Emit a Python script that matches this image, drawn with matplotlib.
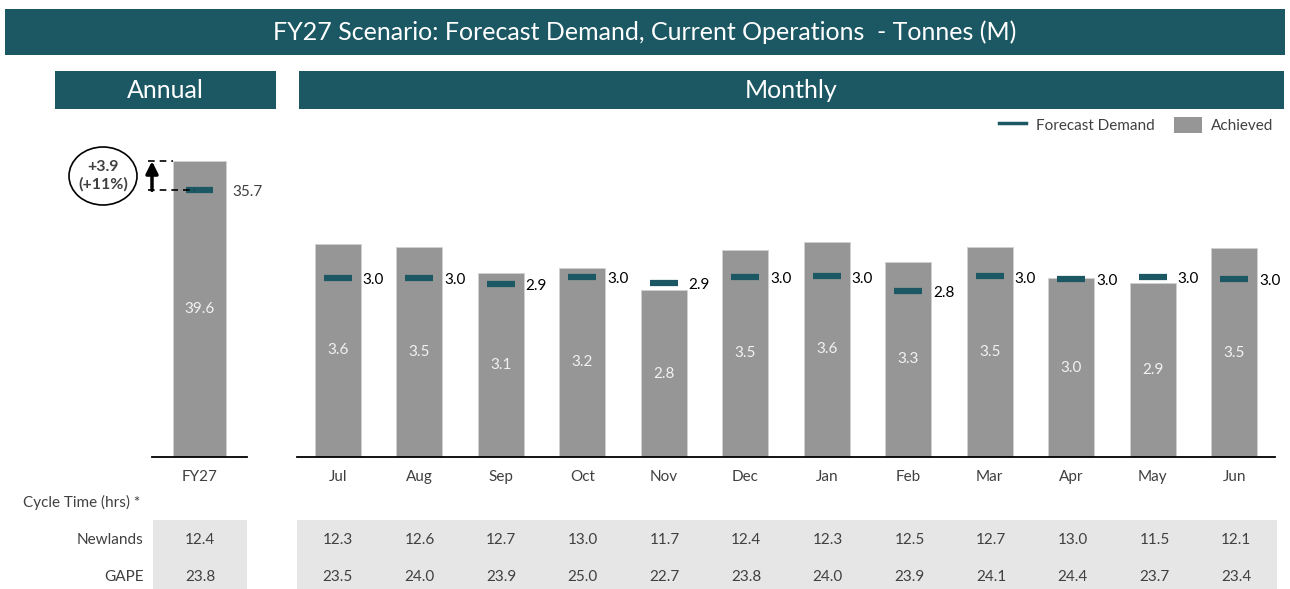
import matplotlib
matplotlib.use("Agg")
from matplotlib import pyplot as plt
from matplotlib.patches import Rectangle, Ellipse, Patch
from matplotlib.lines import Line2D
import matplotlib.transforms as mtransforms
import numpy as np

# ---- data ----
annual_label = ["FY27"]
annual_achieved = [39.6]
annual_forecast = [35.7]

months = ["Jul", "Aug", "Sep", "Oct", "Nov", "Dec", "Jan", "Feb", "Mar", "Apr", "May", "Jun"]
achieved = [3.60, 3.54, 3.10, 3.20, 2.82, 3.50, 3.64, 3.30, 3.54, 3.02, 2.94, 3.53]
forecast = [3.02, 3.02, 2.93, 3.04, 2.94, 3.04, 3.05, 2.80, 3.05, 3.00, 3.04, 3.00]

row_names = ["Newlands", "GAPE"]
annual_cycle = [[12.4], [23.8]]
monthly_cycle = [
    [12.3, 12.6, 12.7, 13.0, 11.7, 12.4, 12.3, 12.5, 12.7, 13.0, 11.5, 12.1],
    [23.5, 24.0, 23.9, 25.0, 22.7, 23.8, 24.0, 23.9, 24.1, 24.4, 23.7, 23.4],
]

title = "FY27 Scenario: Forecast Demand, Current Operations  - Tonnes (M)"

# ---- style ----
teal = "#1B5863"
bar_grey = "#969696"
table_grey = "#E6E6E6"
txt = "#404040"
plt.rcParams["font.family"] = ["Lato", "DejaVu Sans"]

W, H = 1290, 589
fig = plt.figure(figsize=(W / 100, H / 100), dpi=100)


def px(x0, y0, x1, y1):
    return [x0 / W, 1 - y1 / H, (x1 - x0) / W, (y1 - y0) / H]


def header(x0, y0, x1, y1, label, size):
    r = px(x0, y0, x1, y1)
    fig.patches.append(Rectangle((r[0], r[1]), r[2], r[3], transform=fig.transFigure,
                                 facecolor=teal, edgecolor="none"))
    fig.text(r[0] + r[2] / 2, r[1] + r[3] / 2, label, color="white", fontsize=size,
             ha="center", va="center")


header(5, 9, 1285, 55, title, 18)
header(55, 71, 276, 109, "Annual", 18)
header(299, 71, 1284, 109, "Monthly", 18)

# ---- chart axes ----
top, base = 140, 457
ax_a = fig.add_axes(px(152, top, 247, base))
ax_m = fig.add_axes(px(297, top, 1275, base))

ax_a.set_ylim(0, (base - top) / 7.47)
ax_m.set_ylim(0, (base - top) / 59.2)

# annual
xa = np.arange(len(annual_label))
ax_a.bar(xa, annual_achieved, width=0.55, color=bar_grey, edgecolor="#D0D0D0", linewidth=0.6)
ax_a.hlines(annual_forecast, xa - 0.14, xa + 0.14, color=teal, lw=4.5)
ax_a.set_xlim(-0.5, 0.5)
ax_a.set_xticks(xa, annual_label)
for x, a, f in zip(xa, annual_achieved, annual_forecast):
    ax_a.text(x, a / 2, f"{a:.1f}", ha="center", va="center", color="#F2F2F2", fontsize=11)
    ax_a.annotate(f"{f:.1f}", (x, f), xytext=(24, -1), textcoords="offset points",
                  ha="left", va="center", color=txt, fontsize=11)

# monthly
xm = np.arange(len(months))
ax_m.bar(xm, achieved, width=0.56, color=bar_grey, edgecolor="#D0D0D0", linewidth=0.6)
ax_m.hlines(forecast, xm - 0.17, xm + 0.17, color=teal, lw=4.5)
ax_m.set_xlim(-0.5, len(months) - 0.5)
ax_m.set_xticks(xm, months)
for x, a, f in zip(xm, achieved, forecast):
    ax_m.text(x, a / 2, f"{a:.1f}", ha="center", va="center", color="#F2F2F2", fontsize=11)
    ax_m.annotate(f"{f:.1f}", (x, f), xytext=(18, -1.5), textcoords="offset points",
                  ha="left", va="center", color="black", fontsize=11)

for ax in (ax_a, ax_m):
    for s in ("top", "right", "left"):
        ax.spines[s].set_visible(False)
    ax.spines["bottom"].set_linewidth(1.3)
    ax.spines["bottom"].set_color("black")
    ax.set_yticks([])
    ax.tick_params(axis="x", length=0, pad=17, labelsize=11, labelcolor=txt)
    for lab in ax.get_xticklabels():
        lab.set_verticalalignment("baseline")
    ax.patch.set_alpha(0)

# gap annotation on annual
gap = annual_achieved[0] - annual_forecast[0]
pct = gap / annual_forecast[0] * 100
blend = mtransforms.blended_transform_factory(fig.transFigure, ax_a.transData)
ax_a.plot([148 / W, 173 / W], [annual_achieved[0]] * 2, transform=blend, clip_on=False,
          color="black", lw=1.2, ls=(0, (4, 3)))
ax_a.plot([148 / W, 195 / W], [annual_forecast[0]] * 2, transform=blend, clip_on=False,
          color="black", lw=1.2, ls=(0, (4, 3)))
ax_a.annotate("", xy=(152 / W, annual_achieved[0]), xytext=(152 / W, annual_forecast[0]),
              xycoords=blend, textcoords=blend,
              arrowprops=dict(arrowstyle="-|>", lw=2.5, color="black", mutation_scale=18,
                              shrinkA=0, shrinkB=0))
e = px(69, 147, 137, 205)
fig.patches.append(Ellipse((e[0] + e[2] / 2, e[1] + e[3] / 2), e[2], e[3],
                           transform=fig.transFigure, facecolor="white",
                           edgecolor="black", lw=1.2))
fig.text(e[0] + e[2] / 2, e[1] + e[3] / 2, f"+{gap:.1f}\n(+{pct:.0f}%)", ha="center",
         va="center", fontsize=11.5, fontweight="bold", color=txt, linespacing=1.3)

# legend
handles = [Line2D([], [], color=teal, lw=2.5), Patch(facecolor=bar_grey, edgecolor="none")]
fig.legend(handles, ["Forecast Demand", "Achieved"], loc="center right",
           bbox_to_anchor=(1287 / W, 1 - 125 / H), ncol=2, frameon=False, fontsize=11,
           labelcolor=txt, handlelength=1.8, handleheight=1.3, handletextpad=0.6,
           columnspacing=1.3)

# ---- cycle time table ----
tb_a = fig.add_axes(px(153, 520, 247, 589))
tb_m = fig.add_axes(px(297, 520, 1277, 589), sharex=ax_m)
for tb in (tb_a, tb_m):
    tb.set_facecolor(table_grey)
    for s in tb.spines.values():
        s.set_visible(False)
    tb.set_ylim(1.32, -0.54)
    tb.tick_params(left=False, bottom=False, labelleft=False, labelbottom=False)
tb_a.set_xlim(-0.5, 0.5)

for r, (name, arow, mrow) in enumerate(zip(row_names, annual_cycle, monthly_cycle)):
    for x, v in zip(xa, arow):
        tb_a.text(x, r, f"{v:.1f}", ha="center", va="center", fontsize=11, color=txt)
    for x, v in zip(xm, mrow):
        tb_m.text(x, r, f"{v:.1f}", ha="center", va="center", fontsize=11, color=txt)
    tb_a.annotate(name, (0, r), xycoords=("axes fraction", "data"), xytext=(-7, 0),
                  textcoords="offset points", ha="right", va="center", fontsize=11, color=txt)

fig.text(140 / W, 1 - 502 / H, "Cycle Time (hrs) *", ha="right", va="center",
         fontsize=11, color=txt)

plt.savefig("out.png", dpi=100)
